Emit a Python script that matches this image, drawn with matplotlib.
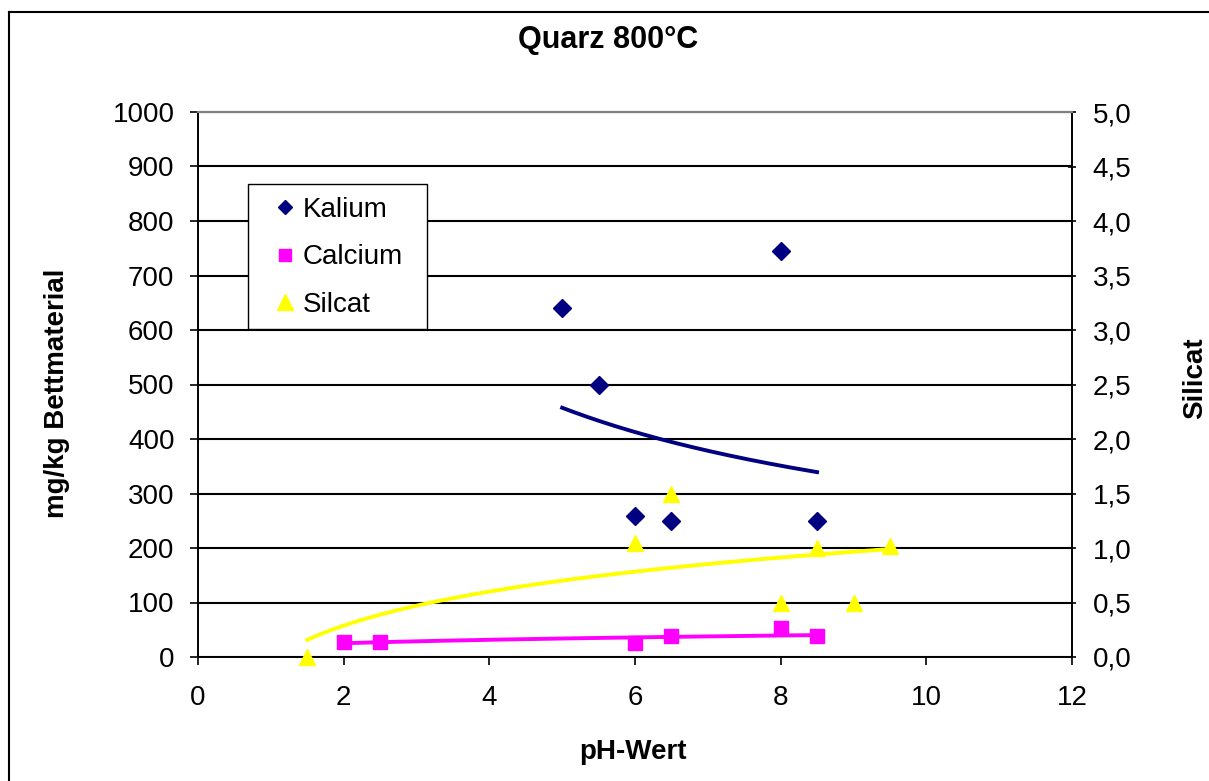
import numpy
from matplotlib import pyplot
from matplotlib.lines import Line2D
from matplotlib.patches import Rectangle
from matplotlib.ticker import FuncFormatter, MultipleLocator

# pH value and concentration per element
kalium_ph = [5.0, 5.5, 6.0, 6.5, 8.0, 8.5]
kalium_mg = [640, 500, 258, 250, 745, 250]

calcium_ph = [2.0, 2.5, 6.0, 6.5, 8.0, 8.5]
calcium_mg = [27, 27, 26, 38, 53, 38]

silicat_ph = [1.5, 6.0, 6.5, 8.0, 8.5, 9.0, 9.5]
silicat_val = [0.0, 1.05, 1.5, 0.5, 1.0, 0.5, 1.02]

NAVY = '#000080'
MAGENTA = '#ff00ff'
YELLOW = '#ffff00'


def power_trend(x, y):
    b, a = numpy.polyfit(numpy.log(x), numpy.log(y), 1)
    xs = numpy.linspace(min(x), max(x), 200)
    return xs, numpy.exp(a) * xs ** b


def log_trend(x, y):
    b, a = numpy.polyfit(numpy.log(x), y, 1)
    xs = numpy.linspace(min(x), max(x), 200)
    return xs, a + b * numpy.log(xs)


pyplot.rcParams['font.family'] = ['Liberation Sans', 'DejaVu Sans']

figure = pyplot.figure(figsize=(12.09, 7.81), dpi=100)
ax = figure.add_axes([198 / 1209, 1 - 657 / 781, 874 / 1209, 545 / 781])
ax2 = ax.twinx()

# outer chart frame
figure.add_artist(Line2D([9 / 1209, 1], [1 - 12 / 781, 1 - 12 / 781],
                         color='black', lw=1.5, transform=figure.transFigure))
figure.add_artist(Line2D([9 / 1209, 9 / 1209], [0, 1 - 12 / 781],
                         color='black', lw=1.5, transform=figure.transFigure))

ax.set_xlim(0, 12)
ax.set_ylim(0, 1000)
ax2.set_ylim(0, 5)
ax.xaxis.set_major_locator(MultipleLocator(2))
ax.yaxis.set_major_locator(MultipleLocator(100))
ax2.yaxis.set_major_locator(MultipleLocator(0.5))
ax2.yaxis.set_major_formatter(FuncFormatter(lambda v, p: f'{v:.1f}'.replace('.', ',')))

ax.grid(axis='y', color='black', lw=1.5)
ax.set_axisbelow(True)

for a in (ax, ax2):
    a.spines['top'].set_color('#808080')
    a.spines['top'].set_linewidth(1.5)
    a.spines['left'].set_linewidth(1.2)
    a.spines['bottom'].set_linewidth(1.2)
    a.spines['right'].set_linewidth(1.2)
ax.tick_params(axis='both', labelsize=20, length=6, width=1.2, direction='out', pad=11)
ax.tick_params(axis='x', pad=14)
ax2.tick_params(axis='y', labelsize=20, length=6, width=1.2, direction='inout', pad=12)

# trendlines
xs, ys = power_trend(kalium_ph, kalium_mg)
ax.plot(xs, ys, color=NAVY, lw=2.8, zorder=3)
xs, ys = power_trend(calcium_ph, calcium_mg)
ax.plot(xs, ys, color=MAGENTA, lw=2.8, zorder=3)
xs, ys = log_trend(silicat_ph, silicat_val)
ax2.plot(xs, ys, color=YELLOW, lw=2.8, zorder=3)

ax.plot(kalium_ph, kalium_mg, 'D', color=NAVY, ms=9, ls='none', zorder=4, label='Kalium')
ax.plot(calcium_ph, calcium_mg, 's', color=MAGENTA, ms=9.5, ls='none', zorder=4, label='Calcium')
ax2.plot(silicat_ph, silicat_val, '^', color=YELLOW, ms=12, ls='none', zorder=4,
         clip_on=False, label='Silcat')

# legend box drawn separately so the padding can differ per side
box = Rectangle((50 / 874, 328 / 545), 179 / 874, 145 / 545, transform=ax2.transAxes,
                facecolor='white', edgecolor='black', lw=1.0, zorder=5)
ax2.add_patch(box)

handles = [
    Line2D([], [], marker='D', color=NAVY, ls='none', ms=7.5),
    Line2D([], [], marker='s', color=MAGENTA, ls='none', ms=9),
    Line2D([], [], marker='^', color=YELLOW, ls='none', ms=11),
]
legend = ax2.legend(handles, ['Kalium', 'Calcium', 'Silcat'], loc='upper left',
                    bbox_to_anchor=(77 / 874, 460 / 545), borderaxespad=0,
                    fontsize=20, frameon=False, handlelength=0.7, handletextpad=0.3,
                    labelspacing=0.77, borderpad=0)
legend.set_zorder(6)

figure.text(608 / 1209, 1 - 40 / 781, 'Quarz 800°C', ha='center', va='center',
            fontsize=22, fontweight='bold')
figure.text(57 / 1209, 1 - 393 / 781, 'mg/kg Bettmaterial', ha='center', va='center',
            rotation=90, fontsize=20, fontweight='bold')
figure.text(1195 / 1209, 1 - 378 / 781, 'Silicat', ha='center', va='center',
            rotation=90, fontsize=20, fontweight='bold')
figure.text(633 / 1209, 1 - 752 / 781, 'pH-Wert', ha='center', va='center',
            fontsize=20, fontweight='bold')

figure.savefig('out.png', dpi=100)
